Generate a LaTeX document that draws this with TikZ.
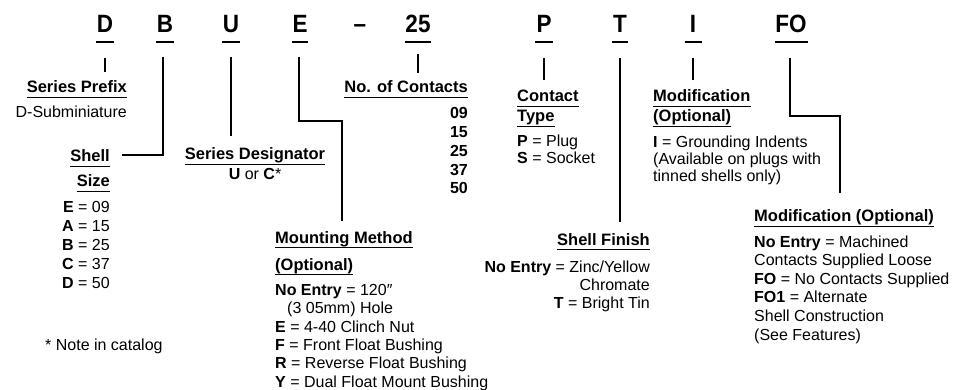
\documentclass[tikz,border=0pt]{standalone}
\usepackage{fontspec}
\usepackage{graphicx}
\setmainfont{Liberation Sans}
\begin{document}
\begin{tikzpicture}[x=1pt,y=-1pt,
  big/.style={font=\fontsize{25}{25}\selectfont\bfseries, anchor=base, inner sep=0pt},
  hd/.style={font=\fontsize{16.5}{18}\selectfont\bfseries, inner sep=0pt},
  bd/.style={font=\fontsize{16}{18}\selectfont, inner sep=0pt},
  conn/.style={line width=1.5pt},
  ul/.style={line width=1.3pt},
  bul/.style={line width=1.5pt}]
\useasboundingbox (0,0) rectangle (958,390);
\fill[white] (0,0) rectangle (958,390);

% ---- part-number letters
\foreach \n/\x/\t/\w in {LD/105/D/9, LB/165/B/9, LU/231/U/9, LE/300/E/8, L25/418/25/13, LP/544/P/9, LT/620/T/8, LI/693/I/8.5, LFO/791/FO/16.5}{
  \node[big] (\n) at (\x,33) {\scalebox{0.9}[1]{\t}};
  \draw[bul] ([xshift=-\w pt, yshift=-9pt]\n.base) -- ([xshift=\w pt, yshift=-9pt]\n.base);
}
\node[big] (Ldash) at (360,33) {\scalebox{0.9}[1]{–}};

% ---- headings
\node[hd, anchor=base east] (sp) at (127,93) {Series Prefix};
\node[hd, anchor=base east] (ss1) at (110,162) {Shell};
\node[hd, anchor=base east] (ss2) at (110,187) {Size};
\node[hd, anchor=base] (sd) at (255,160) {Series Designator};
\node[hd, anchor=base east] (nc) at (468,93) {No. of Contacts};
\node[hd, anchor=base west] (ct1) at (517,102) {Contact};
\node[hd, anchor=base west] (ct2) at (517,122) {Type};
\node[hd, anchor=base west] (mo1) at (653,102) {Modification};
\node[hd, anchor=base west] (mo2) at (653,122) {(Optional)};
\node[hd, anchor=base west] (mm1) at (275,243) {Mounting Method};
\node[hd, anchor=base west] (mm2) at (275,270) {(Optional)};
\node[hd, anchor=base east] (sf) at (650,245) {Shell Finish};
\node[hd, anchor=base west] (mf) at (754,222) {Modification (Optional)};
\foreach \h in {sp,ss1,ss2,sd,nc,ct1,ct2,mo1,mo2,mm1,mm2,sf,mf}{
  \draw[ul] ([yshift=-4.5pt]\h.base west) -- ([yshift=-4.5pt]\h.base east);
}

% ---- descriptions
\node[bd, anchor=base east] (spd) at (127,118) {D-Subminiature};
\foreach \t [count=\i] in {{\textbf{E} = 09},{\textbf{A} = 15},{\textbf{B} = 25},{\textbf{C} = 37},{\textbf{D} = 50}}{
  \node[bd, anchor=base east] (ssl\i) at (110,{213+18.75*(\i-1)}) {\t};
}
\node[bd, anchor=base] (sdd) at (255,180) {\textbf{U} or \textbf{C}*};
\foreach \t [count=\i] in {09,15,25,37,50}{
  \node[bd, anchor=base east, font=\fontsize{16}{18}\selectfont\bfseries] (ncl\i) at (468,{119+18.75*(\i-1)}) {\t};
}
\node[bd, anchor=base west] (ctl1) at (517,147) {\textbf{P} = Plug};
\node[bd, anchor=base west] (ctl2) at (517,164) {\textbf{S} = Socket};
\foreach \t [count=\i] in {{\textbf{I} = Grounding Indents},{(Available on plugs with},{tinned shells only)}}{
  \node[bd, anchor=base west] (mol\i) at (653,{148+17*(\i-1)}) {\t};
}
\node[bd, anchor=base west] (mml1) at (275,295) {\textbf{No Entry} = 120″};
\node[bd, anchor=base west] (mml2) at (287,313.5) {(3 05mm) Hole};
\node[bd, anchor=base west] (mml3) at (275,332) {\textbf{E} = 4-40 Clinch Nut};
\node[bd, anchor=base west] (mml4) at (275,350) {\textbf{F} = Front Float Bushing};
\node[bd, anchor=base west] (mml5) at (275,368.5) {\textbf{R} = Reverse Float Bushing};
\node[bd, anchor=base west] (mml6) at (275,387) {\textbf{Y} = Dual Float Mount Bushing};
\node[bd, anchor=base east] (sfl1) at (650,272) {\textbf{No Entry} = Zinc/Yellow};
\node[bd, anchor=base east] (sfl2) at (650,290) {Chromate};
\node[bd, anchor=base east] (sfl3) at (650,308) {\textbf{T} = Bright Tin};
\foreach \t [count=\i] in {{\textbf{No Entry} = Machined},{Contacts Supplied Loose},{\textbf{FO} = No Contacts Supplied},{\textbf{FO1} = Alternate},{Shell Construction},{(See Features)}}{
  \node[bd, anchor=base west] (mfl\i) at (754,{247+18.6*(\i-1)}) {\t};
}
\node[bd, anchor=base west] (note) at (45,350) {* Note in catalog};

% ---- connector ends
\coordinate (Dend) at (105,72);
\coordinate (Bend) at (122,155);
\coordinate (Uend) at (231,136);
\coordinate (Ecorner) at (342,121);
\coordinate (Eend) at (342,221);
\coordinate (N25end) at (418,73);
\coordinate (Pend) at (544,80);
\coordinate (Tend) at (620,222);
\coordinate (Iend) at (693,80);
\coordinate (Fcorner) at (840,116);
\coordinate (Fend) at (840,193);

% ---- connectors
\draw[conn] ([yshift=-25pt]LD.base) -- (Dend);
\draw[conn] ([xshift=-2pt, yshift=-24pt]LB.base) |- (Bend);
\draw[conn] ([yshift=-24pt]LU.base) -- (Uend);
\draw[conn] ([xshift=-1pt, yshift=-24pt]LE.base) |- (Ecorner) -- (Eend);
\draw[conn] ([yshift=-21pt]L25.base) -- (N25end);
\draw[conn] ([yshift=-25pt]LP.base) -- (Pend);
\draw[conn] ([yshift=-25pt]LT.base) -- (Tend);
\draw[conn] ([yshift=-25pt]LI.base) -- (Iend);
\draw[conn] ([xshift=-1pt, yshift=-25pt]LFO.base) |- (Fcorner) -- (Fend);
\end{tikzpicture}
\end{document}
